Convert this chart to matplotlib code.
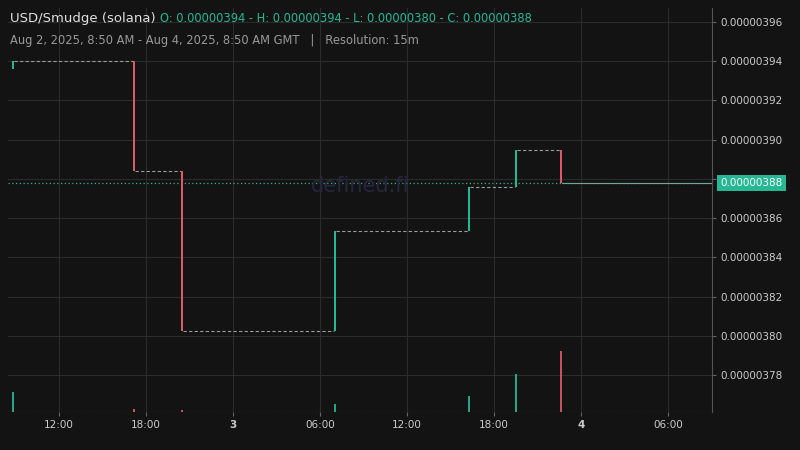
import matplotlib.pyplot as plt
import numpy as np

# candles: hours since Aug 2 00:00 GMT, prices in 1e-8 USD
times = [8.83, 17.17, 20.48, 31.03, 40.28, 43.52, 46.62]
opens = [393.6, 394.0, 388.4, 380.25, 385.35, 387.6, 389.45]
closes = [394.0, 388.4, 380.25, 385.35, 387.6, 389.45, 387.8]
volumes = [20, 3, 2, 8, 16, 38, 60]
last_close = 387.8
end_time = 45.1 + 12

yticks = [378, 380, 382, 384, 386, 388, 390, 392, 394, 396]
xtick_pos = [12, 18, 24, 30, 36, 42, 48, 54]
xtick_lab = ['12:00', '18:00', '3', '06:00', '12:00', '18:00', '4', '06:00']

bg = '#131313'
green = '#26b895'
red = '#e0566a'
grid = '#2b2b2b'

fig = plt.figure(figsize=(8, 4.5), dpi=100, facecolor=bg)
ax = fig.add_axes([0.01, 0.0844, 0.88, 0.898], facecolor=bg)
ax.set_xlim(8.48, 57.03)
ax.set_ylim(376.13, 396.71)

w = 0.16
for i, (t, o, c) in enumerate(zip(times, opens, closes)):
    col = green if c >= o else red
    ax.bar(t, c - o, bottom=o, width=w, color=col, zorder=3)
    # flat dashed line until next candle
    t_next = times[i + 1] if i + 1 < len(times) else end_time
    ax.plot([t + w / 2, t_next - w / 2], [c, c], color='#9a9a9a', lw=0.8,
            ls=(0, (3, 2)) if i + 1 < len(times) else '-', zorder=2)

ax.axhline(last_close, color=green, lw=0.9, ls=(0, (1, 2)), zorder=2)

# volume on a twin axis at the bottom
vax = ax.twinx()
vax.set_ylim(0, 60 / 0.15)
for t, o, c, v in zip(times, opens, closes, volumes):
    vax.bar(t, v, width=w, color=green if c >= o else red, alpha=0.9)
vax.set_yticks([])
vax.axhline(0.5, color='#bbbbbb', lw=0.8, ls=(0, (1, 2)))

ax.set_yticks(yticks)
ax.yaxis.tick_right()
ax.set_yticklabels(['' if v == 388 else '0.%08d' % v for v in yticks],
                   color='#cccccc', fontsize=7.5)
ax.set_xticks(xtick_pos)
ax.set_xticklabels(xtick_lab, color='#cccccc', fontsize=7.5)
for lab in ax.get_xticklabels():
    if lab.get_text() in ('3', '4'):
        lab.set_fontweight('bold')
ax.tick_params(length=3, color='#666666', pad=3)
ax.grid(color=grid, lw=0.8)
for s in ['top', 'left', 'bottom']:
    ax.spines[s].set_visible(False)
for s in vax.spines.values():
    s.set_visible(False)
ax.spines['right'].set_color('#555555')

ax.text(57.6, last_close, '0.%08d' % 388, color='white', fontsize=7.5,
        va='center', ha='left', bbox=dict(boxstyle='square,pad=0.3', fc=green, ec='none'))

ax.text(0.5, 0.56, 'defined.fi', transform=ax.transAxes, ha='center', va='center',
        fontsize=15, color='#262640')

fig.text(0.012, 0.958, 'USD/Smudge (solana)', color='#e0e0e0', fontsize=9.5, va='center')
fig.text(0.2, 0.958, 'O: 0.00000394 - H: 0.00000394 - L: 0.00000380 - C: 0.00000388',
         color=green, fontsize=8.3, va='center')
fig.text(0.012, 0.91, 'Aug 2, 2025, 8:50 AM - Aug 4, 2025, 8:50 AM GMT   |   Resolution: 15m',
         color='#999999', fontsize=8.3, va='center')

fig.savefig('out.png', dpi=100, facecolor=bg)
